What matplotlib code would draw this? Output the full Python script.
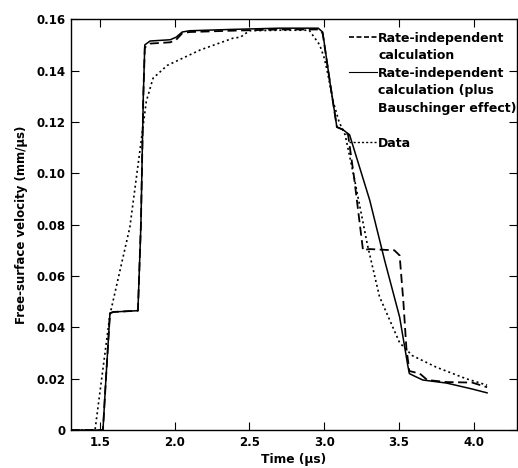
import numpy as np
import matplotlib.pyplot as plt
from matplotlib.lines import Line2D

plt.rcParams['font.family'] = ['DejaVu Sans']
plt.rcParams['font.weight'] = 'bold'

# Rate-independent calculation (plus Bauschinger effect) - solid
t_baus = [1.306, 1.52, 1.54, 1.567, 1.59, 1.754, 1.774, 1.79, 1.80, 1.835, 1.97, 2.01,
          2.05, 2.10, 2.37, 2.70, 2.96, 2.99, 3.04, 3.085, 3.125, 3.17, 3.305, 3.405,
          3.505, 3.56, 3.57, 3.605, 3.66, 3.82, 3.99, 4.09]
v_baus = [0, 0, 0.02, 0.0455, 0.046, 0.0465, 0.08, 0.13, 0.150, 0.1515, 0.152, 0.153,
          0.155, 0.1555, 0.156, 0.1565, 0.1565, 0.155, 0.135, 0.118, 0.117, 0.115, 0.0895, 0.066,
          0.044, 0.025, 0.022, 0.021, 0.0195, 0.0183, 0.016, 0.0145]

# Rate-independent calculation - dashed
t_rate = [1.306, 1.52, 1.54, 1.567, 1.59, 1.754, 1.774, 1.79, 1.80, 1.835, 1.97, 2.01,
          2.05, 2.10, 2.37, 2.70, 2.96, 2.99, 3.04, 3.085, 3.125, 3.16, 3.20, 3.26,
          3.30, 3.47, 3.505, 3.53, 3.55, 3.57, 3.605, 3.64, 3.69, 3.82, 3.99, 4.09]
v_rate = [0, 0, 0.02, 0.0455, 0.046, 0.0465, 0.08, 0.13, 0.149, 0.1505, 0.151, 0.152,
          0.1545, 0.155, 0.1555, 0.156, 0.156, 0.1545, 0.135, 0.118, 0.117, 0.115, 0.0985, 0.070,
          0.0705, 0.070, 0.068, 0.050, 0.032, 0.023, 0.0225, 0.022, 0.0195, 0.0187, 0.0185, 0.0167]

# Data - dotted
t_data = [1.306, 1.467, 1.567, 1.70, 1.77, 1.81, 1.855, 1.95, 2.17, 2.39, 2.44, 2.50,
          2.70, 2.90, 2.97, 3.00, 3.02, 3.06, 3.10, 3.14, 3.20, 3.29, 3.37, 3.505,
          3.59, 3.75, 3.95, 4.09]
v_data = [0, 0, 0.045, 0.079, 0.11, 0.128, 0.137, 0.142, 0.148, 0.1526, 0.153, 0.1555,
          0.1557, 0.1557, 0.150, 0.145, 0.140, 0.128, 0.12, 0.115, 0.0985, 0.072, 0.052, 0.034,
          0.029, 0.0245, 0.020, 0.0175]

x_ticks = [1.5, 2.0, 2.5, 3.0, 3.5, 4.0]
y_ticks = [0, 0.02, 0.04, 0.06, 0.08, 0.10, 0.12, 0.14, 0.16]
y_labels = ['0', '0.02', '0.04', '0.06', '0.08', '0.10', '0.12', '0.14', '0.16']

fig = plt.figure(figsize=(5.18, 4.68), dpi=100)
ax = fig.add_axes([0.137, 0.081, 0.861, 0.878])

ax.plot(t_rate, v_rate, color='black', lw=1.3, linestyle=(0, (5, 2.5)))
ax.plot(t_baus, v_baus, color='black', lw=1.1)
ax.plot(t_data, v_data, color='black', lw=1.2, linestyle=(0, (1.2, 1.8)))

ax.set_xlim(1.306, 4.29)
ax.set_ylim(0, 0.16)
ax.set_xticks(x_ticks)
ax.set_xticklabels(['%.1f' % x for x in x_ticks])
ax.set_yticks(y_ticks)
ax.set_yticklabels(y_labels)
ax.tick_params(direction='in', length=6, width=0.8, top=True, right=True, labelsize=8.5, pad=4)
for s in ax.spines.values():
    s.set_linewidth(1.0)

ax.set_xlabel('Time (\u00b5s)', fontsize=8.8, fontweight='bold', labelpad=3)
ax.set_ylabel('Free-surface velocity (mm/\u00b5s)', fontsize=8.5, fontweight='bold', labelpad=6)

# Legend rows (continuation lines have no handle)
blank = Line2D([], [], linestyle='none')
handles = [Line2D([], [], color='black', lw=1.2, linestyle=(0, (3, 1.5))), blank,
           Line2D([], [], color='black', lw=0.8), blank, blank, blank,
           Line2D([], [], color='black', lw=1.0, linestyle=(0, (1.5, 1.5)))]
labels = ['Rate-independent', 'calculation', 'Rate-independent', 'calculation (plus',
          'Bauschinger effect)', '', 'Data']
leg = ax.legend(handles, labels, loc='upper left', bbox_to_anchor=(0.624, 0.97),
                frameon=False, fontsize=9, handlelength=2.2, handletextpad=0.1,
                labelspacing=0.36, borderpad=0, borderaxespad=0)
for txt in leg.get_texts():
    txt.set_fontweight('bold')

fig.savefig('out.png', dpi=100)
